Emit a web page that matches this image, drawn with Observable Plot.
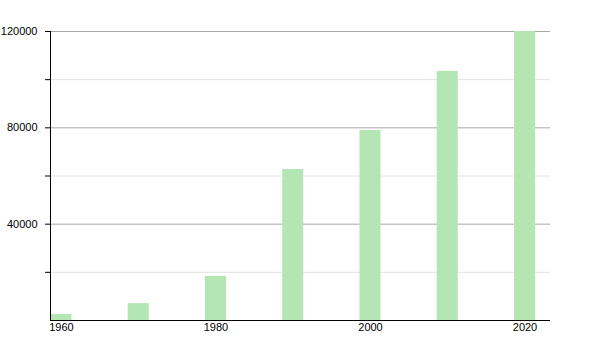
<!DOCTYPE html>
<html>
<head>
<meta charset="utf-8">
<script src="https://cdn.jsdelivr.net/npm/d3@7"></script>
<script src="https://cdn.jsdelivr.net/npm/@observablehq/plot@0.6"></script>
<style>
  html, body { margin: 0; padding: 0; background: #fff; }
</style>
</head>
<body>
<div id="chart"></div>
<script>
const years = [1960, 1970, 1980, 1990, 2000, 2010, 2020];
const values = [2500, 7000, 18300, 62700, 78900, 103400, 120000];
const yMajorTicks = [40000, 80000, 120000];
const yMinorTicks = [20000, 60000, 100000];
const yAllTicks = [20000, 40000, 60000, 80000, 100000, 120000];
const xTickLabels = [1960, 1980, 2000, 2020];

const data = years.map((year, i) => ({year, value: values[i]}));
const halfBar = 1.36;
const xDomain = [1958.58, 2023.3];

const chart = Plot.plot({
  width: 600,
  height: 350,
  marginLeft: 50,
  marginRight: 50,
  marginTop: 31,
  marginBottom: 30,
  style: {fontFamily: "'Liberation Sans', Arial, sans-serif", fontSize: "11px", background: "#fff"},
  x: {domain: xDomain},
  y: {domain: [0, 120000]},
  marks: [
    Plot.ruleY(yMinorTicks, {stroke: "#e2e2e2", strokeWidth: 1}),
    Plot.ruleY(yMajorTicks, {stroke: "#a8a8a8", strokeWidth: 1}),
    Plot.rectY(data, {
      x1: d => d.year - halfBar,
      x2: d => d.year + halfBar,
      y: "value",
      fill: "#b3e6b3"
    }),
    Plot.axisY({
      ticks: yAllTicks,
      tickFormat: d => (yMajorTicks.includes(d) ? String(d) : ""),
      tickSize: 5,
      tickPadding: 8,
      label: null,
      stroke: "#000",
      fill: "#000"
    }),
    Plot.axisX({
      ticks: xTickLabels,
      tickFormat: d => String(d),
      tickSize: 0,
      tickPadding: 3,
      label: null,
      fill: "#000"
    }),
    Plot.ruleX([xDomain[0]], {y1: 0, y2: 120000, stroke: "#000"}),
    Plot.ruleY([0], {stroke: "#000"})
  ]
});
document.getElementById("chart").appendChild(chart);
</script>
</body>
</html>
